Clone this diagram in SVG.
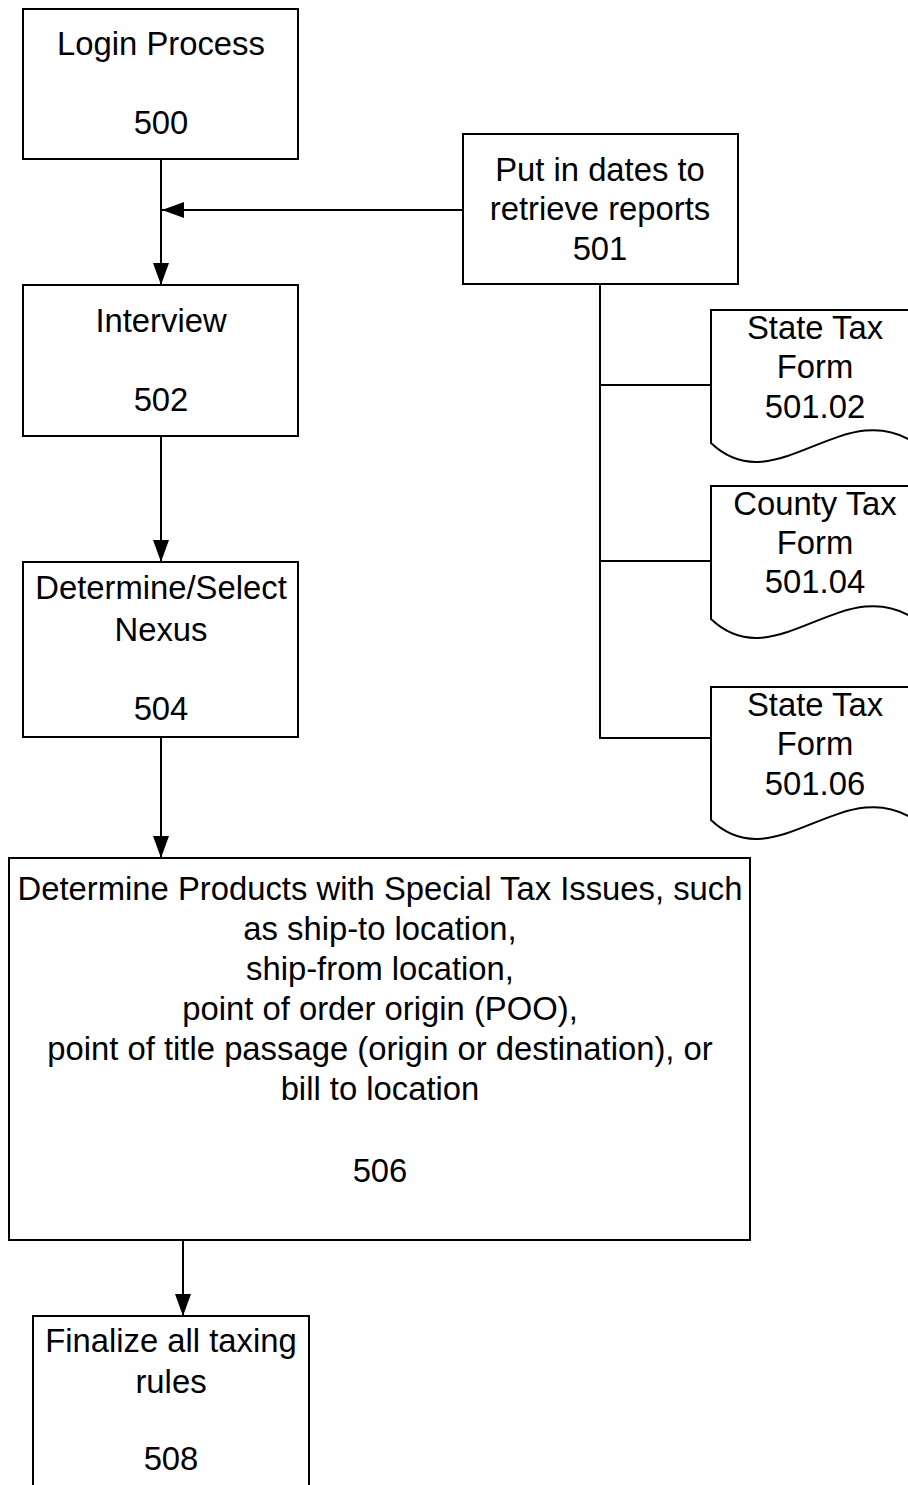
<svg xmlns="http://www.w3.org/2000/svg" xmlns:xlink="http://www.w3.org/1999/xlink" width="908" height="1485" viewBox="0 0 908 1485">
  <style>
    .box { fill: #fff; stroke: #000; stroke-width: 2; }
    .line { fill: none; stroke: #000; stroke-width: 2; }
    text { font-family: "Liberation Sans", Arial, sans-serif; font-size: 32.8px; fill: #000; text-anchor: middle; }
  </style>
  <defs>
    <marker id="arrow" viewBox="0 0 22 16" refX="22" refY="8" markerWidth="22" markerHeight="16" markerUnits="userSpaceOnUse" orient="auto">
      <path d="M0,0 L22,8 L0,16 Z" fill="#000"/>
    </marker>
    <!-- document shape with wavy bottom, origin at its top-left corner -->
    <path id="doc" d="M0,0 H208 V136 C135,80 65,195 0,133 Z"/>
  </defs>

  <rect width="908" height="1485" fill="#fff"/>

  <g id="connectors">
    <line class="line" x1="161" y1="159" x2="161" y2="285" marker-end="url(#arrow)"/>
    <line class="line" x1="463" y1="210" x2="162" y2="210" marker-end="url(#arrow)"/>
    <line class="line" x1="161" y1="436" x2="161" y2="562" marker-end="url(#arrow)"/>
    <line class="line" x1="161" y1="737" x2="161" y2="858" marker-end="url(#arrow)"/>
    <line class="line" x1="183" y1="1240" x2="183" y2="1316" marker-end="url(#arrow)"/>
    <polyline class="line" points="600,284 600,738 711,738"/>
    <line class="line" x1="600" y1="385" x2="711" y2="385"/>
    <line class="line" x1="600" y1="561" x2="711" y2="561"/>
  </g>

  <g id="node-500">
    <rect class="box" x="23" y="9" width="275" height="150"/>
    <text x="161" y="55">Login Process</text>
    <text x="161" y="134">500</text>
  </g>

  <g id="node-501">
    <rect class="box" x="463" y="134" width="275" height="150"/>
    <text x="600" y="181">Put in dates to</text>
    <text x="600" y="220">retrieve reports</text>
    <text x="600" y="260">501</text>
  </g>

  <g id="node-501-02">
    <use xlink:href="#doc" class="box" x="711" y="310"/>
    <text x="815" y="339">State Tax</text>
    <text x="815" y="378">Form</text>
    <text x="815" y="418">501.02</text>
  </g>

  <g id="node-501-04">
    <use xlink:href="#doc" class="box" x="711" y="486"/>
    <text x="815" y="515">County Tax</text>
    <text x="815" y="554">Form</text>
    <text x="815" y="593">501.04</text>
  </g>

  <g id="node-501-06">
    <use xlink:href="#doc" class="box" x="711" y="687"/>
    <text x="815" y="716">State Tax</text>
    <text x="815" y="755">Form</text>
    <text x="815" y="795">501.06</text>
  </g>

  <g id="node-502">
    <rect class="box" x="23" y="285" width="275" height="151"/>
    <text x="161" y="332">Interview</text>
    <text x="161" y="411">502</text>
  </g>

  <g id="node-504">
    <rect class="box" x="23" y="562" width="275" height="175"/>
    <text x="161" y="599">Determine/Select</text>
    <text x="161" y="641">Nexus</text>
    <text x="161" y="720">504</text>
  </g>

  <g id="node-506">
    <rect class="box" x="9" y="858" width="741" height="382"/>
    <text x="380" y="900">Determine Products with Special Tax Issues, such</text>
    <text x="380" y="940">as ship-to location,</text>
    <text x="380" y="980">ship-from location,</text>
    <text x="380" y="1020">point of order origin (POO),</text>
    <text x="380" y="1060">point of title passage (origin or destination), or</text>
    <text x="380" y="1100">bill to location</text>
    <text x="380" y="1182">506</text>
  </g>

  <g id="node-508">
    <rect class="box" x="33" y="1316" width="276" height="190"/>
    <text x="171" y="1352">Finalize all taxing</text>
    <text x="171" y="1393">rules</text>
    <text x="171" y="1470">508</text>
  </g>
</svg>
